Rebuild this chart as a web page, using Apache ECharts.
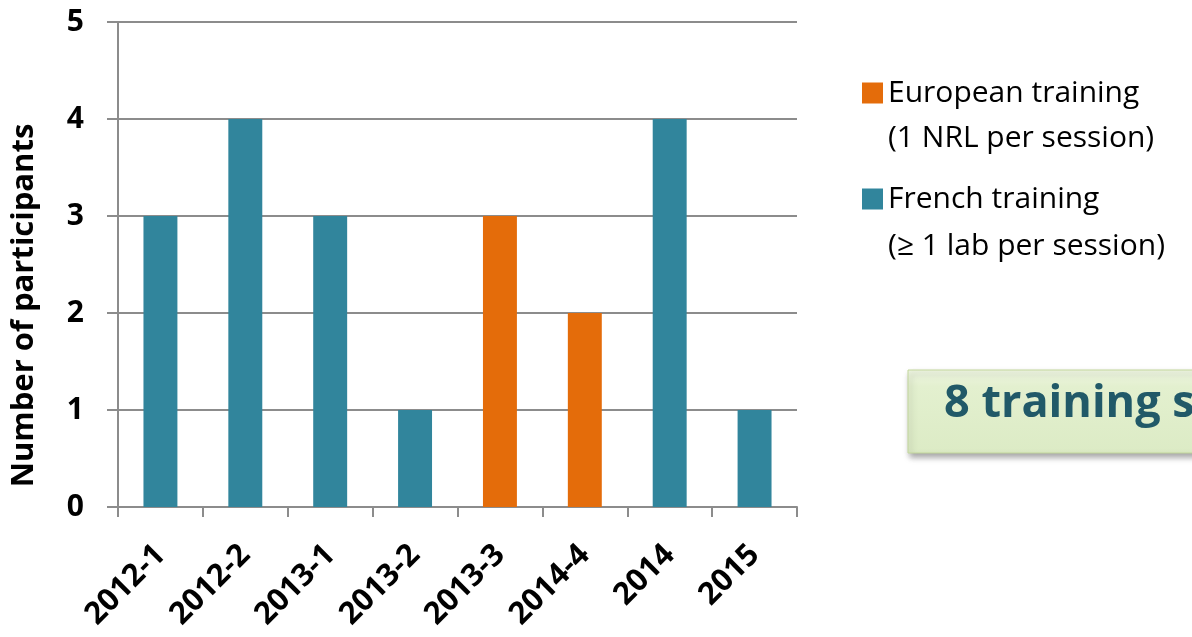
<!DOCTYPE html>
<html>
<head>
  <meta charset="utf-8">
  <title>Training sessions</title>
  <script src="https://cdn.jsdelivr.net/npm/echarts@6/dist/echarts.min.js"></script>
  <style>
    html, body { margin: 0; padding: 0; background: #fff; }
    #main { width: 1192px; height: 637px; }
  </style>
</head>
<body>
  <div id="main"></div>
  <script>
    // sessions and participants per session
    var sessions = ['2012-1', '2012-2', '2013-1', '2013-2', '2013-3', '2014-4', '2014', '2015'];
    var european = [null, null, null, null, 3, 2, null, null];
    var french = [3, 4, 3, 1, null, null, 4, 1];
    var yTicks = [0, 1, 2, 3, 4, 5];

    var font = '"Open Sans", Lato, sans-serif';
    var chart = echarts.init(document.getElementById('main'));

    var option = {
      animation: false,
      textStyle: { fontFamily: font },
      grid: { left: 118, right: 395, top: 22, bottom: 130, containLabel: false },
      legend: {
        orient: 'vertical',
        left: 857,
        top: 73,
        itemWidth: 21,
        itemHeight: 21,
        itemGap: 76,
        icon: 'rect',
        textStyle: { fontSize: 30, color: '#000', fontFamily: font },
        data: ['European training', 'French training']
      },
      xAxis: {
        type: 'category',
        data: sessions,
        axisLine: { lineStyle: { color: '#8c8c8c', width: 2 } },
        axisTick: { show: true, length: 10, lineStyle: { color: '#8c8c8c', width: 2 } },
        axisLabel: {
          rotate: 45,
          margin: 43,
          fontSize: 31,
          fontWeight: 'bold',
          color: '#000',
          fontFamily: font
        }
      },
      yAxis: {
        type: 'value',
        min: yTicks[0],
        max: yTicks[yTicks.length - 1],
        interval: 1,
        name: 'Number of participants',
        nameLocation: 'middle',
        nameGap: 78,
        nameRotate: 90,
        nameTextStyle: { fontSize: 31, fontWeight: 'bold', color: '#000', fontFamily: font, padding: [0, 82, 0, 0] },
        axisLine: { show: true, lineStyle: { color: '#8c8c8c', width: 2 } },
        axisTick: { show: true, length: 11, lineStyle: { color: '#8c8c8c', width: 2 } },
        splitLine: { lineStyle: { color: '#8c8c8c', width: 2 } },
        axisLabel: { margin: 34, fontSize: 30, fontWeight: 'bold', color: '#000', fontFamily: font }
      },
      series: [
        {
          name: 'European training',
          type: 'bar',
          stack: 'all',
          barWidth: '40%',
          itemStyle: { color: '#e46c0a' },
          data: european
        },
        {
          name: 'French training',
          type: 'bar',
          stack: 'all',
          barWidth: '40%',
          itemStyle: { color: '#31859c' },
          data: french
        }
      ],
      graphic: [
        {
          type: 'text',
          left: 888,
          top: 123,
          style: { text: '(1 NRL per session)', fontSize: 30, fill: '#000', fontFamily: font }
        },
        {
          type: 'text',
          left: 888,
          top: 231,
          style: { text: '(\u2265 1 lab per session)', fontSize: 30, fill: '#000', fontFamily: font }
        },
        {
          type: 'rect',
          shape: { x: 908, y: 370, width: 320, height: 83 },
          style: {
            fill: {
              type: 'linear', x: 0, y: 0, x2: 0, y2: 1,
              colorStops: [
                { offset: 0, color: '#f0f7e3' },
                { offset: 0.2, color: '#e3f0cf' },
                { offset: 1, color: '#dcebc5' }
              ]
            },
            stroke: '#c2d69b',
            lineWidth: 1,
            shadowBlur: 6,
            shadowOffsetX: 2,
            shadowOffsetY: 4,
            shadowColor: 'rgba(0,0,0,0.35)'
          }
        },
        {
          type: 'text',
          left: 944,
          top: 382,
          style: { text: '8 training sessions', fontSize: 45, fontWeight: 'bold', fill: '#215968', fontFamily: font }
        }
      ]
    };

    chart.setOption(option);
  </script>
</body>
</html>
